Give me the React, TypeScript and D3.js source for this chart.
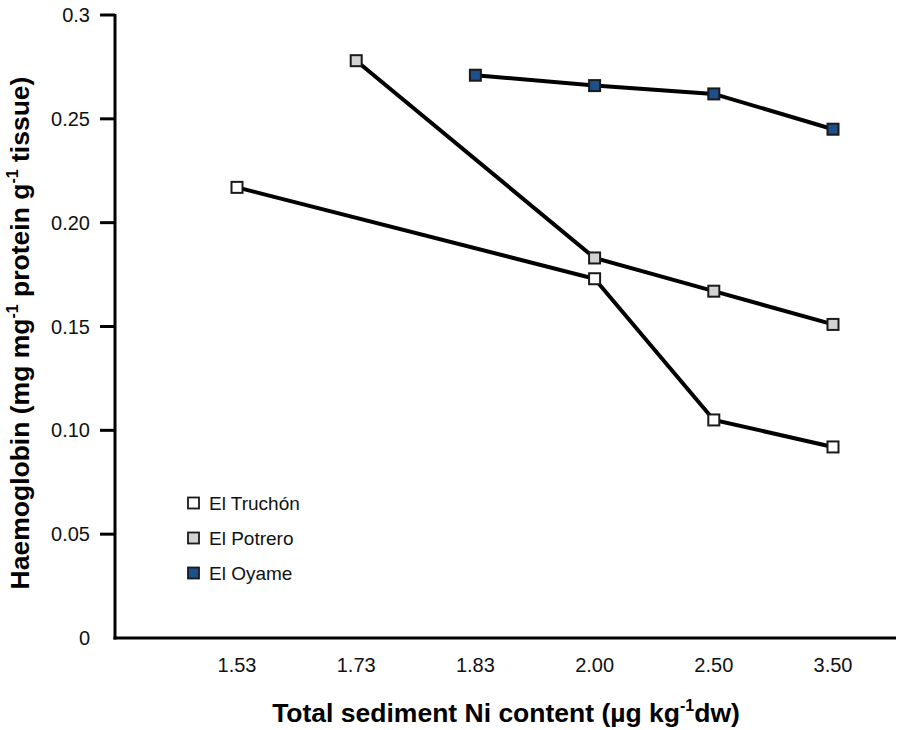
import React from "react";
import * as d3 from "d3";

// x categories (total sediment Ni content) and tick labels
const categories = ["1.53", "1.73", "1.83", "2.00", "2.50", "3.50"];
const yTicks = [0, 0.05, 0.1, 0.15, 0.2, 0.25, 0.3];
const yTickLabels = ["0", "0.05", "0.10", "0.15", "0.20", "0.25", "0.3"];

// series
const truchonX = ["1.53", "2.00", "2.50", "3.50"];
const truchonY = [0.217, 0.173, 0.105, 0.092];
const potreroX = ["1.73", "2.00", "2.50", "3.50"];
const potreroY = [0.278, 0.183, 0.167, 0.151];
const oyameX = ["1.83", "2.00", "2.50", "3.50"];
const oyameY = [0.271, 0.266, 0.262, 0.245];

const seriesNames = ["El Truchón", "El Potrero", "El Oyame"];
const seriesFill = ["#ffffff", "#d2d2d2", "#1d4f8a"];

const W = 899;
const H = 730;
const font = "'Liberation Sans', Arial, Helvetica, sans-serif";

export default function App() {
  const x = d3.scalePoint<string>().domain(categories).range([237, 833]);
  const y = d3.scaleLinear().domain([0, 0.3]).range([638, 15]);

  const series = [
    truchonX.map((c, i) => ({ c, v: truchonY[i] })),
    potreroX.map((c, i) => ({ c, v: potreroY[i] })),
    oyameX.map((c, i) => ({ c, v: oyameY[i] })),
  ];

  const line = d3
    .line<{ c: string; v: number }>()
    .x((d) => x(d.c)!)
    .y((d) => y(d.v));

  const legendY = d3.scalePoint<string>().domain(seriesNames).range([503, 573]);
  const ms = 11;

  return (
    <svg
      width={W}
      height={H}
      style={{ position: "absolute", left: 0, top: 0, background: "#fff" }}
      fontFamily={font}
    >
      {/* axes */}
      <line x1={115} x2={115} y1={14} y2={639.5} stroke="#000" strokeWidth={3} />
      <line x1={113.5} x2={896} y1={638} y2={638} stroke="#000" strokeWidth={3} />
      {yTicks.map((t, i) => (
        <g key={t}>
          {t !== 0 && (
            <line x1={100} x2={115} y1={y(t)} y2={y(t)} stroke="#000" strokeWidth={3} />
          )}
          <text
            x={90}
            y={y(t)}
            textAnchor="end"
            dominantBaseline="central"
            fontSize={20}
            fill="#111"
          >
            {yTickLabels[i]}
          </text>
        </g>
      ))}
      {categories.map((c) => (
        <text key={c} x={x(c)} y={665} textAnchor="middle" dominantBaseline="central" fontSize={20} fill="#111">
          {c}
        </text>
      ))}

      {/* axis titles */}
      <text x={506} y={722} textAnchor="middle" fontSize={26.5} fontWeight="bold" fill="#000">
        Total sediment Ni content (µg kg
        <tspan fontSize={16} dy={-11}>-1</tspan>
        <tspan dy={11}>dw)</tspan>
      </text>
      <text
        transform={`translate(29, 333) rotate(-90)`}
        textAnchor="middle"
        fontSize={26.5}
        fontWeight="bold"
        fill="#000"
      >
        Haemoglobin (mg mg
        <tspan fontSize={16} dy={-11}>-1</tspan>
        <tspan dy={11}> protein g</tspan>
        <tspan fontSize={16} dy={-11}>-1</tspan>
        <tspan dy={11}> tissue)</tspan>
      </text>

      {/* lines */}
      {series.map((s, i) => (
        <path key={i} d={line(s)!} fill="none" stroke="#000" strokeWidth={4} />
      ))}
      {/* markers */}
      {series.map((s, i) =>
        s.map((d) => (
          <rect
            key={i + d.c}
            x={x(d.c)! - ms / 2}
            y={y(d.v) - ms / 2}
            width={ms}
            height={ms}
            fill={seriesFill[i]}
            stroke="#1a1a1a"
            strokeWidth={2}
          />
        ))
      )}

      {/* legend */}
      {seriesNames.map((n, i) => (
        <g key={n}>
          <rect
            x={188}
            y={legendY(n)! - 5.5}
            width={11}
            height={11}
            fill={seriesFill[i]}
            stroke="#1a1a1a"
            strokeWidth={1.8}
          />
          <text x={209} y={legendY(n)!} dominantBaseline="central" fontSize={19} fill="#111">
            {n}
          </text>
        </g>
      ))}
    </svg>
  );
}
